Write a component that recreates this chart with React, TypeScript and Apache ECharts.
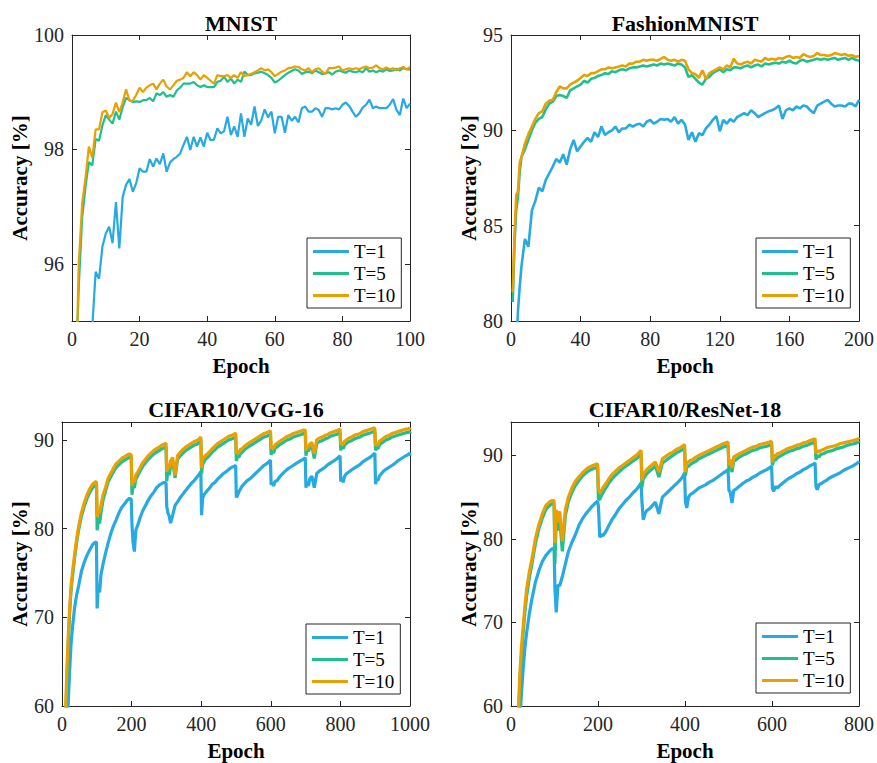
import React, { useEffect, useRef } from "react";
import * as echarts from "echarts";

const FONT = "Liberation Serif";
const COLORS = ["#27a9e1", "#1fbf8f", "#e9a000"];
const NAMES = ["T=1", "T=5", "T=10"];

// ---------- MNIST (epochs 1..100) ----------
const mnistEpochs = Array.from({ length: 100 }, (_, i) => i + 1);
const mnistT1 = [
  90.5, 92.5, 93.6, 94.2, 94.6, 94.9, 95.86, 95.74, 96.3, 96.53,
  96.65, 96.36, 97.08, 96.27, 97.17, 97.38, 97.48, 97.26, 97.41, 97.67,
  97.61, 97.61, 97.83, 97.7, 97.84, 97.74, 97.93, 97.61, 97.77, 97.83,
  97.87, 97.93, 98.08, 98.22, 97.99, 98.22, 98.05, 98.21, 98.05, 98.29,
  98.16, 98.17, 98.37, 98.28, 98.32, 98.57, 98.25, 98.4, 98.22, 98.63,
  98.22, 98.54, 98.43, 98.75, 98.41, 98.51, 98.7, 98.56, 98.66, 98.28,
  98.57, 98.57, 98.29, 98.6, 98.5, 98.57, 98.47, 98.72, 98.75, 98.66,
  98.66, 98.72, 98.69, 98.57, 98.72, 98.72, 98.7, 98.72, 98.7, 98.78,
  98.82, 98.76, 98.66, 98.57, 98.63, 98.73, 98.78, 98.87, 98.72, 98.75,
  98.72, 98.72, 98.72, 98.78, 98.88, 98.69, 98.6, 98.89, 98.72, 98.8,
];
const mnistT5 = [
  93.8, 95.6, 96.8, 97.35, 97.78, 97.72, 98.18, 98.15, 98.42, 98.6,
  98.52, 98.45, 98.66, 98.52, 98.74, 98.9, 98.86, 98.83, 98.84, 98.83,
  98.86, 98.86, 98.9, 98.84, 98.98, 98.95, 99.0, 98.92, 98.95, 98.92,
  99.03, 99.08, 99.15, 99.15, 99.15, 99.18, 99.12, 99.09, 99.12, 99.09,
  99.09, 99.09, 99.18, 99.2, 99.27, 99.18, 99.24, 99.15, 99.22, 99.18,
  99.36, 99.3, 99.3, 99.33, 99.34, 99.36, 99.33, 99.3, 99.25, 99.17,
  99.2, 99.25, 99.3, 99.34, 99.37, 99.4, 99.38, 99.32, 99.35, 99.36,
  99.33, 99.38, 99.35, 99.32, 99.33, 99.35, 99.31, 99.36, 99.38, 99.36,
  99.34, 99.38, 99.36, 99.35, 99.37, 99.35, 99.42, 99.36, 99.38, 99.35,
  99.38, 99.36, 99.4, 99.37, 99.38, 99.41, 99.38, 99.42, 99.4, 99.4,
];
const mnistT10 = [
  93.5, 96.0, 97.05, 97.5, 98.05, 97.85, 98.35, 98.35, 98.65, 98.68,
  98.55, 98.62, 98.82, 98.65, 98.82, 99.05, 98.85, 98.85, 98.95, 99.08,
  99.0, 99.08, 99.12, 99.15, 99.05, 99.15, 99.22, 99.1, 99.05, 99.12,
  99.2, 99.22, 99.25, 99.35, 99.28, 99.35, 99.3, 99.22, 99.3, 99.25,
  99.2, 99.15, 99.3, 99.28, 99.28, 99.3, 99.25, 99.3, 99.25, 99.35,
  99.28, 99.3, 99.32, 99.35, 99.38, 99.42, 99.38, 99.4, 99.35, 99.28,
  99.32, 99.36, 99.38, 99.42, 99.43, 99.45, 99.44, 99.4, 99.38, 99.42,
  99.35, 99.4, 99.42, 99.36, 99.32, 99.42, 99.42, 99.43, 99.45, 99.38,
  99.4, 99.42, 99.4, 99.42, 99.4, 99.43, 99.45, 99.42, 99.43, 99.47,
  99.42, 99.4, 99.43, 99.4, 99.42, 99.38, 99.42, 99.44, 99.4, 99.44,
];

// ---------- FashionMNIST (epochs 1..6, then every 2 to 200) ----------
const fashionEpochs = [1, 2, 3, 4, 5, 6, ...Array.from({ length: 97 }, (_, i) => 8 + 2 * i)];
const fashionT1 = [
  74, 76, 78.5, 80.5, 81.8, 82.85, 84.3, 83.9, 85.8, 86.3, 87.0, 86.8, 87.4, 87.75, 88.1, 88.5,
  88.3, 88.75, 88.2, 89.0, 89.5, 88.9, 89.15, 89.4, 89.6, 89.4, 89.9, 89.65, 90.2, 89.75, 89.9, 90.0,
  90.2, 89.9, 90.1, 90.1, 90.3, 90.2, 90.3, 90.35, 90.2, 90.45, 90.55, 90.35, 90.45, 90.6, 90.55, 90.6,
  90.45, 90.7, 90.35, 90.55, 90.3, 89.5, 89.9, 89.4, 89.85, 89.75, 90.1, 90.3, 90.55, 90.75, 89.95, 90.55,
  90.35, 90.6, 90.45, 90.7, 90.8, 90.9, 90.8, 91.05, 90.9, 90.7, 90.8, 90.9, 91.0, 91.05, 91.15, 91.3,
  90.6, 91.05, 91.15, 91.05, 91.25, 91.15, 91.3, 91.25, 91.05, 90.9, 91.3, 91.4, 91.5, 91.6, 91.4, 91.25,
  91.3, 91.3, 91.25, 91.4, 91.4, 91.25, 91.6,
];
const fashionT5 = [
  81.0, 84.0, 85.8, 86.5, 87.8, 88.6, 89.0, 89.5, 90.0, 90.4, 90.6, 90.7, 91.1, 91.4, 91.5, 91.8,
  91.85, 91.8, 91.7, 92.1, 92.2, 92.3, 92.4, 92.6, 92.5, 92.7, 92.75, 92.85, 92.9, 93.0, 92.95, 93.1,
  93.05, 93.15, 93.2, 93.15, 93.25, 93.3, 93.3, 93.35, 93.4, 93.35, 93.4, 93.45, 93.4, 93.5, 93.45, 93.5,
  93.45, 93.4, 93.5, 93.45, 93.3, 92.8, 92.9, 92.7, 92.5, 92.4, 92.7, 92.8, 93.0, 93.1, 93.2, 93.05,
  93.2, 93.15, 93.3, 93.3, 93.25, 93.35, 93.4, 93.3, 93.4, 93.45, 93.35, 93.5, 93.45, 93.5, 93.55, 93.5,
  93.6, 93.55, 93.65, 93.55, 93.5, 93.65, 93.7, 93.6, 93.65, 93.7, 93.75, 93.7, 93.75, 93.7, 93.75, 93.8,
  93.7, 93.75, 93.8, 93.7, 93.8, 93.7, 93.65,
];
const fashionT10 = [
  81.5, 84.5, 86.6, 86.8, 88.3, 88.6, 89.3, 89.8, 90.2, 90.6, 90.9, 91.0, 91.4, 91.55, 91.6, 92.0,
  92.3, 92.2, 92.2, 92.4, 92.5, 92.6, 92.75, 92.9, 92.85, 93.0, 93.0, 93.1, 93.2, 93.2, 93.3, 93.25,
  93.3, 93.35, 93.4, 93.35, 93.5, 93.5, 93.6, 93.6, 93.7, 93.65, 93.7, 93.7, 93.65, 93.75, 93.85, 93.7,
  93.65, 93.7, 93.6, 93.7, 93.65, 93.2, 93.0, 92.95, 92.75, 93.15, 92.7, 93.0, 93.1, 93.2, 93.3, 93.2,
  93.4, 93.3, 93.75, 93.5, 93.45, 93.55, 93.6, 93.5, 93.7, 93.65, 93.6, 93.8, 93.7, 93.75, 93.7, 93.8,
  93.75, 93.85, 93.9, 93.8, 93.85, 93.8, 94.0, 93.9, 93.85, 93.9, 94.05, 93.95, 93.95, 93.9, 93.95, 94.05,
  94.0, 93.95, 94.0, 93.9, 93.95, 93.85, 93.9,
];

// ---------- CIFAR10 / VGG-16 (restart every 100 epochs) ----------
const segOffsets = [1, 4, 8, 12, 18, 25, 32, 40, 48, 56, 64, 72, 80, 88, 94, 99];
const vggFirst = [10, 14, 18, 22, 26, 30, 36, 42, 48, 56, 64, 72, 80, 88, 94, 99];
const vggEpochs = [
  ...vggFirst,
  ...[1, 2, 3, 4, 5, 6, 7, 8, 9].flatMap((s) => segOffsets.map((o) => s * 100 + o)),
  1000,
];
const vggT1 = [
  50, 55, 60.5, 64, 67, 68.8, 71.0, 72.5, 73.6, 75.2, 76.2, 77.0, 77.6, 78.2, 78.4, 78.5,
  71.0, 73.5, 72.8, 74.8, 76.0, 77.2, 78.3, 79.4, 80.3, 81.0, 81.8, 82.4, 82.8, 83.2, 83.4, 83.3,
  80.5, 78.5, 77.4, 79.8, 80.4, 81.3, 82.0, 82.6, 83.2, 83.7, 84.1, 84.6, 84.9, 85.1, 85.2, 85.1,
  82.5, 81.8, 81.4, 80.6, 81.5, 82.6, 83.0, 83.5, 83.9, 84.3, 84.7, 85.1, 85.4, 85.8, 86.1, 86.4,
  81.5, 83.4, 83.8, 84.0, 84.3, 84.6, 85.0, 85.2, 85.6, 85.9, 86.2, 86.4, 86.7, 86.9, 87.0, 87.1,
  83.5, 83.7, 84.1, 84.4, 84.8, 85.1, 85.4, 85.6, 85.9, 86.2, 86.5, 86.8, 87.1, 87.3, 87.5, 87.7,
  84.9, 85.2, 84.8, 85.3, 85.4, 85.8, 86.1, 86.4, 86.7, 86.9, 87.1, 87.3, 87.5, 87.7, 87.8, 88.0,
  84.6, 85.3, 84.8, 85.6, 85.9, 84.6, 86.2, 86.5, 86.7, 86.9, 87.2, 87.4, 87.6, 87.8, 88.0, 88.2,
  85.3, 85.7, 85.2, 85.9, 86.2, 86.4, 86.6, 86.8, 87.0, 87.2, 87.5, 87.7, 87.9, 88.1, 88.3, 88.5,
  85.0, 85.6, 85.4, 85.9, 86.2, 86.5, 86.7, 86.9, 87.1, 87.3, 87.6, 87.8, 88.0, 88.2, 88.3, 88.5,
  88.2,
];
const vggT5 = [
  58, 63, 67, 70.5, 73, 74.5, 76.6, 78.4, 79.9, 81.4, 82.5, 83.4, 84.1, 84.6, 84.8, 84.9,
  79.8, 80.8, 80.6, 81.8, 83.2, 84.2, 85.2, 85.8, 86.4, 86.9, 87.2, 87.5, 87.7, 87.9, 88.0, 87.9,
  83.8, 84.8, 84.6, 85.5, 86.0, 86.5, 87.0, 87.4, 87.8, 88.1, 88.4, 88.6, 88.8, 89.0, 89.1, 89.2,
  85.3, 86.5, 86.0, 87.0, 87.5, 85.7, 87.8, 88.2, 88.5, 88.8, 89.0, 89.2, 89.4, 89.5, 89.7, 89.9,
  86.2, 87.2, 87.5, 87.8, 88.0, 88.3, 88.6, 88.9, 89.2, 89.4, 89.6, 89.8, 90.0, 90.1, 90.2, 90.35,
  87.6, 88.1, 88.0, 88.4, 88.6, 88.9, 89.1, 89.3, 89.5, 89.7, 89.9, 90.1, 90.3, 90.4, 90.5, 90.6,
  88.3, 88.7, 88.5, 89.0, 89.2, 89.4, 89.6, 89.8, 90.0, 90.1, 90.3, 90.4, 90.5, 90.6, 90.7, 90.7,
  88.2, 88.9, 88.7, 89.1, 89.3, 87.9, 89.6, 89.8, 89.9, 90.1, 90.2, 90.4, 90.5, 90.6, 90.7, 90.8,
  88.8, 89.2, 89.0, 89.4, 89.6, 89.8, 89.9, 90.1, 90.2, 90.3, 90.5, 90.6, 90.7, 90.8, 90.9, 90.9,
  88.8, 89.1, 89.0, 89.4, 89.6, 89.8, 90.0, 90.1, 90.3, 90.4, 90.5, 90.6, 90.7, 90.8, 90.8, 90.9,
  90.7,
];
const vggT10 = [
  59, 64, 68, 71, 73.5, 75, 77, 78.8, 80.3, 81.8, 82.9, 83.8, 84.5, 85.0, 85.2, 85.3,
  81.3, 82.0, 81.8, 82.6, 83.8, 84.6, 85.6, 86.2, 86.8, 87.3, 87.6, 87.9, 88.1, 88.3, 88.4, 88.3,
  84.8, 85.6, 85.2, 86.0, 86.4, 86.9, 87.4, 87.8, 88.2, 88.5, 88.8, 89.0, 89.2, 89.4, 89.5, 89.6,
  86.4, 87.3, 86.8, 87.6, 88.0, 86.0, 88.2, 88.6, 88.9, 89.2, 89.4, 89.6, 89.8, 89.9, 90.1, 90.3,
  86.8, 87.8, 88.0, 88.2, 88.4, 88.7, 89.0, 89.3, 89.6, 89.8, 90.0, 90.2, 90.4, 90.5, 90.6, 90.75,
  88.4, 88.6, 88.5, 88.9, 89.0, 89.3, 89.5, 89.7, 89.9, 90.1, 90.3, 90.5, 90.7, 90.8, 90.9, 91.0,
  89.0, 89.2, 89.0, 89.4, 89.6, 89.8, 90.0, 90.2, 90.4, 90.5, 90.7, 90.8, 90.9, 91.0, 91.1, 91.1,
  88.8, 89.3, 89.1, 89.5, 89.7, 88.4, 90.0, 90.2, 90.3, 90.5, 90.6, 90.8, 90.9, 91.0, 91.1, 91.2,
  89.4, 89.7, 89.5, 89.8, 90.0, 90.2, 90.3, 90.5, 90.6, 90.7, 90.9, 91.0, 91.1, 91.2, 91.3, 91.3,
  89.3, 89.6, 89.4, 89.8, 90.0, 90.2, 90.4, 90.5, 90.7, 90.8, 90.9, 91.0, 91.1, 91.2, 91.2, 91.3,
  91.1,
];

// ---------- CIFAR10 / ResNet-18 ----------
const resFirst = [14, 17, 20, 24, 28, 32, 36, 42, 48, 56, 64, 72, 80, 88, 94, 99];
const resEpochs = [
  ...resFirst,
  ...[1, 2, 3, 4, 5, 6, 7].flatMap((s) => segOffsets.map((o) => s * 100 + o)),
  800,
];
const resT1 = [
  50, 54, 58, 61.5, 64.5, 67, 68.8, 71.0, 72.8, 74.8, 76.2, 77.3, 78.0, 78.5, 78.8, 78.9,
  74.0, 71.2, 74.5, 74.4, 75.5, 77.0, 78.5, 79.6, 80.5, 81.6, 82.4, 83.0, 83.5, 84.0, 84.3, 84.5,
  83.9, 80.2, 80.5, 80.4, 80.9, 81.6, 82.3, 82.9, 83.6, 84.1, 84.6, 85.0, 85.5, 85.9, 86.3, 86.7,
  84.5, 82.3, 83.0, 83.4, 83.6, 84.0, 84.4, 83.0, 85.0, 85.4, 85.8, 86.2, 86.6, 87.0, 87.4, 87.9,
  84.5, 83.7, 85.0, 85.3, 85.5, 85.8, 86.1, 86.3, 86.5, 86.8, 87.0, 87.3, 87.6, 87.9, 88.1, 88.3,
  85.8, 85.6, 84.3, 85.8, 86.0, 86.3, 86.6, 86.9, 87.1, 87.4, 87.6, 87.9, 88.1, 88.3, 88.5, 88.7,
  86.0, 85.7, 86.3, 86.1, 86.4, 86.7, 87.0, 87.3, 87.5, 87.8, 88.0, 88.3, 88.5, 88.8, 88.9, 89.1,
  86.3, 85.9, 86.5, 86.6, 86.8, 87.0, 87.3, 87.5, 87.7, 87.9, 88.2, 88.4, 88.6, 88.8, 89.0, 89.2,
  89.3,
];
const resT5 = [
  54, 58, 62.5, 66, 68.8, 71.2, 73.2, 75.3, 77.0, 79.4, 81.2, 82.5, 83.5, 84.0, 84.2, 84.2,
  77.0, 82.5, 81.0, 82.5, 78.5, 82.8, 84.5, 85.6, 86.4, 87.0, 87.5, 87.9, 88.2, 88.4, 88.5, 88.6,
  84.8, 84.7, 85.2, 85.6, 86.1, 86.7, 87.2, 87.6, 88.0, 88.4, 88.7, 89.0, 89.3, 89.6, 89.9, 90.2,
  86.2, 87.2, 87.5, 87.8, 88.1, 88.4, 88.7, 87.4, 89.1, 89.4, 89.7, 90.0, 90.3, 90.5, 90.7, 90.9,
  87.6, 88.6, 88.7, 88.9, 89.1, 89.3, 89.6, 89.8, 90.0, 90.2, 90.4, 90.6, 90.8, 91.0, 91.1, 91.2,
  88.2, 89.0, 88.0, 89.3, 89.5, 89.8, 90.0, 90.2, 90.4, 90.6, 90.7, 90.9, 91.0, 91.1, 91.2, 91.3,
  88.8, 89.5, 89.4, 89.7, 89.9, 90.1, 90.3, 90.5, 90.6, 90.8, 90.9, 91.1, 91.2, 91.4, 91.5, 91.6,
  89.5, 90.0, 89.8, 90.1, 90.2, 90.4, 90.5, 90.6, 90.8, 90.9, 91.0, 91.2, 91.3, 91.4, 91.5, 91.6,
  91.5,
];
const resT10 = [
  55, 59, 63.5, 67, 69.5, 72, 74, 76, 77.6, 80.0, 81.7, 83.0, 84.0, 84.4, 84.6, 84.6,
  79.5, 83.5, 82.0, 83.3, 79.7, 83.5, 85.0, 86.1, 86.9, 87.4, 87.9, 88.3, 88.6, 88.8, 88.9, 89.0,
  86.0, 85.5, 85.8, 86.2, 86.6, 87.2, 87.7, 88.1, 88.5, 88.8, 89.1, 89.4, 89.7, 90.0, 90.3, 90.6,
  87.0, 87.8, 88.0, 88.3, 88.6, 88.9, 89.2, 88.0, 89.6, 89.9, 90.2, 90.4, 90.7, 90.9, 91.1, 91.3,
  88.0, 89.2, 89.2, 89.4, 89.5, 89.8, 90.0, 90.2, 90.4, 90.6, 90.8, 91.0, 91.2, 91.4, 91.5, 91.6,
  88.8, 89.5, 88.5, 89.8, 90.0, 90.2, 90.4, 90.6, 90.8, 91.0, 91.1, 91.3, 91.4, 91.5, 91.6, 91.7,
  89.2, 90.0, 89.9, 90.2, 90.3, 90.5, 90.7, 90.9, 91.0, 91.2, 91.3, 91.5, 91.6, 91.8, 91.9, 92.0,
  90.2, 90.6, 90.4, 90.6, 90.7, 90.9, 91.0, 91.1, 91.2, 91.4, 91.5, 91.6, 91.7, 91.8, 91.9, 92.0,
  91.9,
];

// ---------- axis ticks ----------
const mnistXTicks = [0, 20, 40, 60, 80, 100];
const mnistYTicks = [96, 98, 100];
const fashionXTicks = [0, 40, 80, 120, 160, 200];
const fashionYTicks = [80, 85, 90, 95];
const vggXTicks = [0, 200, 400, 600, 800, 1000];
const vggYTicks = [60, 70, 80, 90];
const resXTicks = [0, 200, 400, 600, 800];
const resYTicks = [60, 70, 80, 90];

const AXIS_COLOR = "#262626";

function axisPair(kind: "x" | "y", gi: number, min: number, max: number, ticks: number[], nameGap: number) {
  const axisLine = { show: true, onZero: false, lineStyle: { color: AXIS_COLOR, width: 1 } };
  const axisTick = { show: true, inside: true, length: 5, customValues: ticks, lineStyle: { color: AXIS_COLOR, width: 1 } };
  const main: any = {
    type: "value",
    gridIndex: gi,
    position: kind === "x" ? "bottom" : "left",
    min,
    max,
    axisLine,
    axisTick,
    axisLabel: {
      show: true,
      customValues: ticks,
      margin: 8,
      fontSize: 20,
      fontFamily: FONT,
      fontWeight: "normal",
      color: AXIS_COLOR,
      formatter: (v: number) => String(v),
    },
    splitLine: { show: false },
    name: kind === "x" ? "Epoch" : "Accuracy [%]",
    nameLocation: "middle",
    nameGap,
    nameTextStyle: { fontSize: 21, fontWeight: "bold", fontFamily: FONT, color: "#000" },
  };
  const mirror: any = {
    type: "value",
    gridIndex: gi,
    position: kind === "x" ? "top" : "right",
    min,
    max,
    axisLine,
    axisTick,
    axisLabel: { show: false },
    splitLine: { show: false },
  };
  return [main, mirror];
}

function pairs(xs: number[], ys: number[]) {
  return xs.map((x, i) => [x, ys[i]]);
}

export default function App() {
  const ref = useRef<HTMLDivElement>(null);

  useEffect(() => {
    document.body.style.margin = "0";
    if (!ref.current) return;
    const chart = echarts.init(ref.current, null, { renderer: "svg" });

    const grids = [
      { left: 72, top: 35, width: 338, height: 286 },
      { left: 511, top: 35, width: 348, height: 286 },
      { left: 62, top: 422, width: 348, height: 284 },
      { left: 511, top: 422, width: 348, height: 284 },
    ];

    const xAxis = [
      ...axisPair("x", 0, 0, 100, mnistXTicks, 34),
      ...axisPair("x", 1, 0, 200, fashionXTicks, 34),
      ...axisPair("x", 2, 0, 1000, vggXTicks, 34),
      ...axisPair("x", 3, 0, 800, resXTicks, 34),
    ];
    const yAxis = [
      ...axisPair("y", 0, 95, 100, mnistYTicks, 41),
      ...axisPair("y", 1, 80, 95, fashionYTicks, 32),
      ...axisPair("y", 2, 60, 92, vggYTicks, 32),
      ...axisPair("y", 3, 60, 94, resYTicks, 32),
    ];

    const datasets = [
      { x: mnistEpochs, ys: [mnistT1, mnistT5, mnistT10], w: 2.2 },
      { x: fashionEpochs, ys: [fashionT1, fashionT5, fashionT10], w: 2.6 },
      { x: vggEpochs, ys: [vggT1, vggT5, vggT10], w: 3.2 },
      { x: resEpochs, ys: [resT1, resT5, resT10], w: 3.2 },
    ];

    const series: any[] = [];
    datasets.forEach((d, gi) => {
      d.ys.forEach((ys, k) => {
        series.push({
          type: "line",
          name: NAMES[k],
          xAxisIndex: gi * 2,
          yAxisIndex: gi * 2,
          data: pairs(d.x, ys),
          symbol: "none",
          showSymbol: false,
          clip: true,
          color: COLORS[k],
          lineStyle: { color: COLORS[k], width: d.w },
        });
      });
    });

    const legendPos = [
      { left: 307, top: 238 },
      { left: 756, top: 238 },
      { left: 306, top: 624 },
      { left: 756, top: 623 },
    ];
    const legend = legendPos.map((p) => ({
      ...p,
      orient: "vertical",
      data: NAMES.map((n) => ({ name: n, icon: "rect" })),
      selectedMode: false,
      backgroundColor: "#fff",
      borderColor: AXIS_COLOR,
      borderWidth: 1,
      borderRadius: 0,
      padding: [4, 6, 3, 6],
      itemWidth: 36,
      itemHeight: 3,
      itemGap: 3,
      textStyle: { fontSize: 19, fontFamily: FONT, fontWeight: "normal", color: "#000", lineHeight: 19 },
    }));

    const titles = [
      { text: "MNIST", x: 241, y: 23 },
      { text: "FashionMNIST", x: 685, y: 23 },
      { text: "CIFAR10/VGG-16", x: 236, y: 409 },
      { text: "CIFAR10/ResNet-18", x: 685, y: 409 },
    ];

    chart.setOption({
      animation: false,
      backgroundColor: "#fff",
      textStyle: { fontFamily: FONT },
      grid: grids.map((g) => ({ ...g, containLabel: false })),
      xAxis,
      yAxis,
      legend,
      series,
      graphic: titles.map((t) => ({
        type: "text",
        x: t.x,
        y: t.y,
        style: {
          text: t.text,
          fontFamily: FONT,
          fontSize: 22,
          fontWeight: "bold",
          fill: "#000",
          textAlign: "center",
          textVerticalAlign: "middle",
        },
      })),
    });

    return () => chart.dispose();
  }, []);

  return <div ref={ref} style={{ width: 877, height: 763 }} />;
}
